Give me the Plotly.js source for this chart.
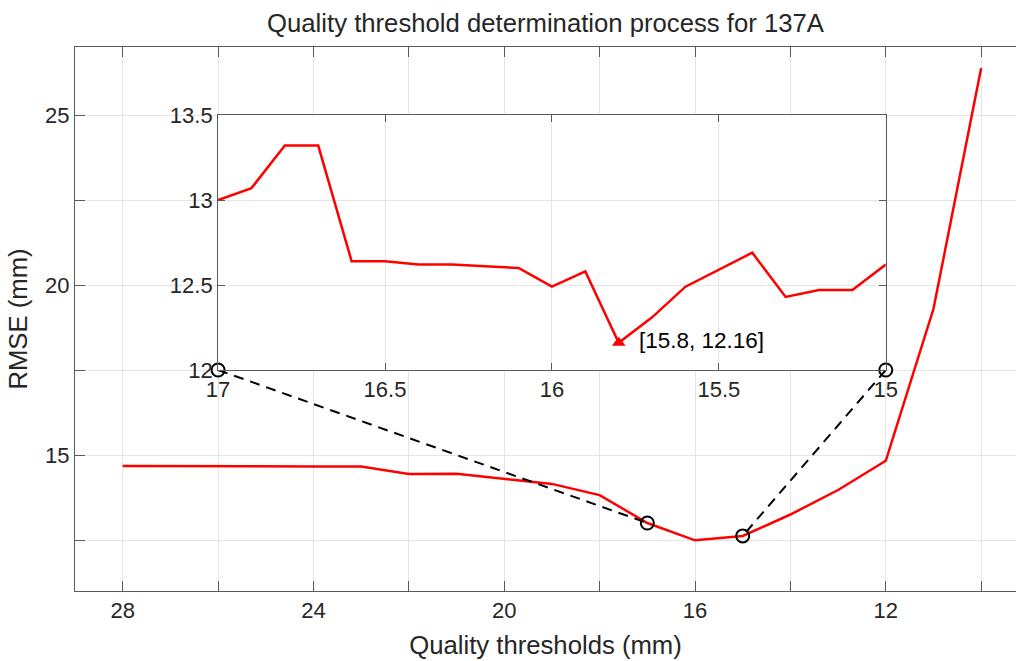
<!DOCTYPE html>
<html>
<head>
<meta charset="utf-8">
<script src="https://cdn.plot.ly/plotly-3.0.1.min.js"></script>
<style>
  html, body { margin: 0; padding: 0; overflow: hidden; background: #ffffff; }
  #chart { width: 1016px; height: 661px; }
</style>
</head>
<body>
<div id="chart"></div>
<script>
// RMSE of the model for each quality threshold (mm)
const thresholds = [28, 27, 26, 25, 24, 23, 22, 21, 20, 19, 18, 17, 16, 15, 14, 13, 12, 11, 10];
const rmse = [14.68, 14.67, 14.66, 14.66, 14.66, 14.66, 14.44, 14.45, 14.31, 14.15, 13.82, 13.00, 12.49, 12.62, 13.25, 13.97, 14.83, 19.30, 26.38];

// Fine search between 17 mm and 15 mm
const fineThresholds = [17, 16.9, 16.8, 16.7, 16.6, 16.5, 16.4, 16.3, 16.2, 16.1, 16, 15.9, 15.8, 15.7, 15.6, 15.5, 15.4, 15.3, 15.2, 15.1, 15];
const fineRmse = [13.00, 13.07, 13.32, 13.32, 12.64, 12.64, 12.62, 12.62, 12.61, 12.60, 12.49, 12.58, 12.16, 12.31, 12.49, 12.59, 12.69, 12.43, 12.47, 12.47, 12.62];

// Tick labels
const xTickVals = [28, 26, 24, 22, 20, 18, 16, 14, 12, 10];
const xTickText = ['28', '', '24', '', '20', '', '16', '', '12', ''];
const yTickVals = [12.5, 15, 17.5, 20, 22.5, 25];
const yTickText = ['', '15', '', '20', '', '25'];
const fineXTickVals = [17, 16.5, 16, 15.5, 15];
const fineYTickVals = [12, 12.5, 13, 13.5];

// Axis ranges
const xRange = [29, 9.27];
const yRange = [11, 27];
const fineXRange = [17, 15];
const fineYRange = [12, 13.5];

// Where the zoomed panel sits, in main-axis units
const insetBox = { xLeft: 26, xRight: 12, yBottom: 17.5, yTop: 25 };

const toPaperX = v => (xRange[0] - v) / (xRange[0] - xRange[1]);
const toPaperY = v => (v - yRange[0]) / (yRange[1] - yRange[0]);

const textColor = '#262626';
const lineColor = '#5a5a5a';
const gridColor = '#e4e4e4';
const fontFamily = '"Liberation Sans", Arial, Helvetica, sans-serif';
const titleSize = 25.7;

// Ends of the zoomed range on the coarse curve
const zStart = fineThresholds[0];
const zEnd = fineThresholds[fineThresholds.length - 1];
const rmseAt = x => rmse[thresholds.indexOf(x)];

// Best threshold of the fine search
let best = 0;
fineRmse.forEach((v, i) => { if (v < fineRmse[best]) best = i; });
const bestX = fineThresholds[best];
const bestY = fineRmse[best];

const traces = [
  {
    x: thresholds, y: rmse, xaxis: 'x', yaxis: 'y',
    type: 'scatter', mode: 'lines',
    line: { color: '#ff0000', width: 2.5 },
    hoverinfo: 'x+y'
  },
  {
    x: [insetBox.xLeft, zStart], y: [insetBox.yBottom, rmseAt(zStart)], xaxis: 'x', yaxis: 'y',
    type: 'scatter', mode: 'lines',
    line: { color: '#000000', width: 2, dash: '10px,7px' },
    hoverinfo: 'skip'
  },
  {
    x: [insetBox.xRight, zEnd], y: [insetBox.yBottom, rmseAt(zEnd)], xaxis: 'x', yaxis: 'y',
    type: 'scatter', mode: 'lines',
    line: { color: '#000000', width: 2, dash: '10px,7px' },
    hoverinfo: 'skip'
  },
  {
    x: [zStart, zEnd], y: [rmseAt(zStart), rmseAt(zEnd)], xaxis: 'x', yaxis: 'y',
    type: 'scatter', mode: 'markers',
    marker: { symbol: 'circle-open', size: 13, color: '#000000', line: { width: 2 } },
    hoverinfo: 'skip'
  },
  {
    x: fineThresholds, y: fineRmse, xaxis: 'x2', yaxis: 'y2',
    type: 'scatter', mode: 'lines',
    line: { color: '#ff0000', width: 2.5 },
    hoverinfo: 'x+y'
  },
  {
    x: [bestX], y: [bestY], xaxis: 'x2', yaxis: 'y2',
    type: 'scatter', mode: 'markers',
    marker: { symbol: 'triangle-up', size: 12, color: '#ff0000' },
    hoverinfo: 'x+y'
  },
  {
    x: [zStart, zEnd], y: [fineYRange[0], fineYRange[0]], xaxis: 'x2', yaxis: 'y2',
    type: 'scatter', mode: 'markers', cliponaxis: false,
    marker: { symbol: 'circle-open', size: 13, color: '#000000', line: { width: 2 } },
    hoverinfo: 'skip'
  }
];

const axisCommon = {
  showline: true, linecolor: lineColor, linewidth: 1,
  ticks: 'inside', tickcolor: lineColor, tickwidth: 1,
  showgrid: true, gridcolor: gridColor, gridwidth: 1,
  zeroline: false,
  tickfont: { family: fontFamily, size: 22, color: textColor },
  tickmode: 'array'
};

const layout = {
  width: 1016, height: 661,
  margin: { l: 75, r: 0, t: 47, b: 70, pad: 0 },
  paper_bgcolor: '#ffffff', plot_bgcolor: '#ffffff',
  showlegend: false,
  font: { family: fontFamily, color: textColor },
  title: {
    text: 'Quality threshold determination process for 137A',
    font: { family: fontFamily, size: titleSize, color: textColor },
    x: 0.5, xref: 'paper', xanchor: 'center',
    y: 1 - 23 / 661, yref: 'container', yanchor: 'middle'
  },
  xaxis: Object.assign({}, axisCommon, {
    domain: [0, 1], range: xRange, autorange: false,
    tickvals: xTickVals, ticktext: xTickText, ticklen: 10,
    mirror: 'ticks', anchor: 'y',
    title: { text: 'Quality thresholds (mm)', font: { family: fontFamily, size: titleSize, color: textColor }, standoff: 13 }
  }),
  yaxis: Object.assign({}, axisCommon, {
    domain: [0, 1], range: yRange, autorange: false,
    tickvals: yTickVals, ticktext: yTickText, ticklen: 10,
    mirror: false, anchor: 'x',
    title: { text: 'RMSE (mm)', font: { family: fontFamily, size: titleSize, color: textColor }, standoff: 10 }
  }),
  xaxis2: Object.assign({}, axisCommon, {
    domain: [toPaperX(insetBox.xLeft), toPaperX(insetBox.xRight)],
    range: fineXRange, autorange: false,
    tickvals: fineXTickVals, ticklen: 7,
    mirror: 'ticks', anchor: 'y2'
  }),
  yaxis2: Object.assign({}, axisCommon, {
    domain: [toPaperY(insetBox.yBottom), toPaperY(insetBox.yTop)],
    range: fineYRange, autorange: false,
    tickvals: fineYTickVals, ticklen: 7,
    mirror: 'ticks', anchor: 'x2'
  }),
  annotations: [{
    xref: 'x2', yref: 'y2', x: bestX, y: bestY,
    text: '[' + bestX + ', ' + bestY + ']',
    showarrow: false, xanchor: 'left', yanchor: 'middle',
    xshift: 18, yshift: 2,
    font: { family: fontFamily, size: 22.5, color: '#000000' }
  }]
};

Plotly.newPlot('chart', traces, layout, { staticPlot: true, displayModeBar: false });
</script>
</body>
</html>
